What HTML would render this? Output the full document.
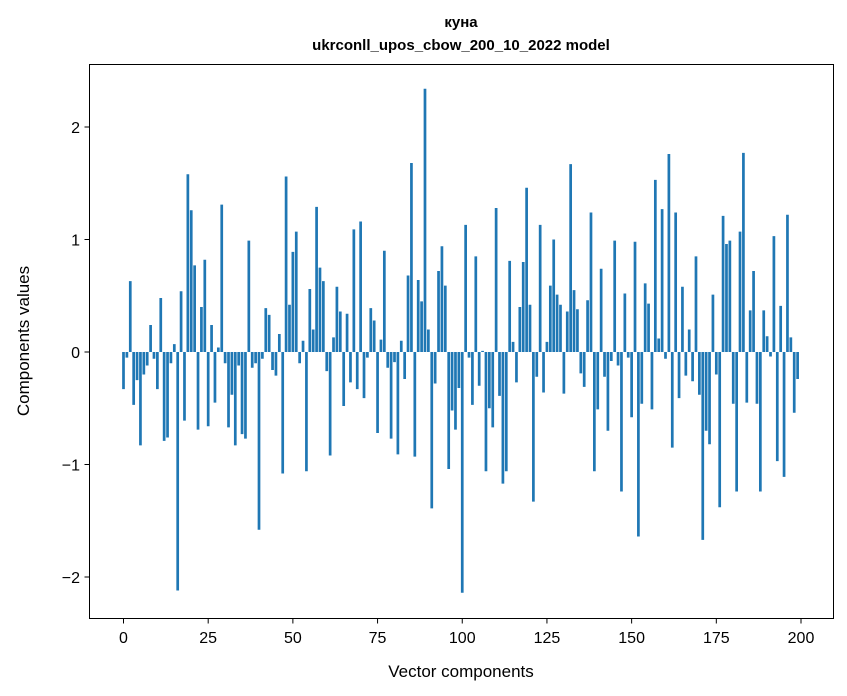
<!DOCTYPE html>
<html><head><meta charset="utf-8"><style>
html,body{margin:0;padding:0;background:#fff;}
svg{display:block;font-family:"Liberation Sans","DejaVu Sans",sans-serif;}
</style></head><body>
<svg id="s" width="847" height="696" xmlns="http://www.w3.org/2000/svg">
<rect width="847" height="696" fill="#fff"/>
<g id="bars" fill="#1f77b4"></g>
<rect x="89.5" y="64.5" width="744" height="554" fill="none" stroke="#000" stroke-width="1"/>
<text x="461" y="27" text-anchor="middle" font-size="15" font-weight="bold">куна</text>
<text x="461" y="50" text-anchor="middle" font-size="15" font-weight="bold">ukrconll_upos_cbow_200_10_2022 model</text>
<text x="461" y="677" text-anchor="middle" font-size="17">Vector components</text>
<text transform="translate(29,341) rotate(-90)" text-anchor="middle" font-size="17">Components values</text>
<g id="ticks" font-size="16"></g>
</svg>
<script>
var v=[-0.33,-0.05,0.63,-0.47,-0.25,-0.83,-0.2,-0.12,0.24,-0.06,-0.33,0.48,-0.79,-0.76,-0.1,0.07,-2.12,0.54,-0.61,1.58,1.26,0.77,-0.69,0.4,0.82,-0.66,0.24,-0.45,0.04,1.31,-0.1,-0.67,-0.38,-0.83,-0.12,-0.73,-0.77,0.99,-0.14,-0.1,-1.58,-0.06,0.39,0.33,-0.16,-0.21,0.16,-1.08,1.56,0.42,0.89,1.07,-0.1,0.1,-1.06,0.56,0.2,1.29,0.75,0.63,-0.17,-0.92,0.13,0.58,0.36,-0.48,0.34,-0.27,1.09,-0.33,1.16,-0.41,-0.05,0.39,0.28,-0.72,0.11,0.9,-0.14,-0.77,-0.09,-0.91,0.1,-0.24,0.68,1.68,-0.93,0.64,0.45,2.34,0.2,-1.39,-0.28,0.72,0.94,0.59,-1.04,-0.52,-0.69,-0.32,-2.14,1.13,-0.05,-0.47,0.85,-0.3,0.01,-1.06,-0.5,-0.67,1.28,-0.39,-1.17,-1.06,0.81,0.09,-0.27,0.4,0.8,1.46,0.42,-1.33,-0.22,1.13,-0.36,0.09,0.59,1.0,0.51,0.42,-0.37,0.36,1.67,0.55,0.38,-0.19,-0.31,0.46,1.24,-1.06,-0.51,0.74,-0.22,-0.7,-0.08,0.99,-0.12,-1.24,0.52,-0.05,-0.58,0.98,-1.64,-0.46,0.61,0.43,-0.51,1.53,0.12,1.27,-0.06,1.76,-0.85,1.24,-0.41,0.58,-0.21,0.2,-0.26,0.85,-0.38,-1.67,-0.7,-0.82,0.51,-0.2,-1.38,1.21,0.96,0.99,-0.46,-1.24,1.07,1.77,-0.45,0.37,0.72,-0.46,-1.24,0.37,0.14,-0.04,1.03,-0.97,0.41,-1.11,1.22,0.13,-0.54,-0.24];
var NS="http://www.w3.org/2000/svg";
var x0=123.5,sx=3.3875,y0=352,sy=112.5;
var g=document.getElementById("bars");
v.forEach(function(d,i){var r=document.createElementNS(NS,"rect");
var xc=x0+sx*i,w=sx*0.8;var h=Math.abs(d)*sy;
r.setAttribute("x",xc-w/2);r.setAttribute("width",w);
r.setAttribute("y",d>=0?y0-h:y0);r.setAttribute("height",h);g.appendChild(r);});
var t=document.getElementById("ticks");
function add(tag,a,txt){var e=document.createElementNS(NS,tag);for(var k in a)e.setAttribute(k,a[k]);if(txt)e.textContent=txt;t.appendChild(e);}
for(var k=0;k<=200;k+=25){var x=x0+sx*k;add("line",{x1:x,x2:x,y1:618.5,y2:623.5,stroke:"#000"});add("text",{x:x,y:643,"text-anchor":"middle"},String(k));}
for(var k=-2;k<=2;k++){var y=y0-sy*k;add("line",{x1:84.5,x2:89.5,y1:y,y2:y,stroke:"#000"});add("text",{x:80,y:y+6,"text-anchor":"end"},(k<0?"\u2212"+(-k):String(k)));}
</script>
</body></html>
